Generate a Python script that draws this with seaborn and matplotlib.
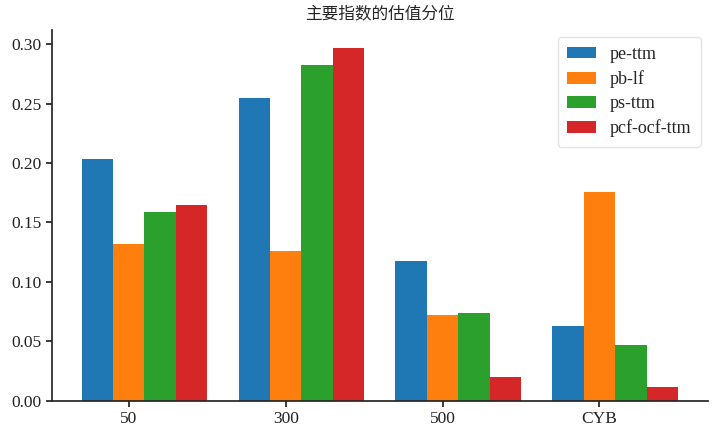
import matplotlib
matplotlib.use("Agg")
import matplotlib.pyplot as plt
import seaborn as sns
import pandas as pd

categories = ["50", "300", "500", "CYB"]
series = ["pe-ttm", "pb-lf", "ps-ttm", "pcf-ocf-ttm"]
pe_ttm = [0.203, 0.255, 0.118, 0.063]
pb_lf = [0.132, 0.126, 0.072, 0.176]
ps_ttm = [0.159, 0.282, 0.074, 0.047]
pcf_ocf_ttm = [0.165, 0.297, 0.020, 0.012]
title = "主要指数的估值分位"

sns.set_theme(style="ticks")
plt.rcParams["font.family"] = ["Liberation Serif", "Noto Sans CJK SC", "DejaVu Sans"]

values = [pe_ttm, pb_lf, ps_ttm, pcf_ocf_ttm]
rows = []
for s, vals in zip(series, values):
    for c, v in zip(categories, vals):
        rows.append({"index": c, "metric": s, "value": v})
df = pd.DataFrame(rows)

fig = plt.figure(figsize=(7.2, 4.32), dpi=100)
ax = fig.add_axes([0.072, 0.072, 0.911, 0.859])
sns.barplot(data=df, x="index", y="value", hue="metric", order=categories,
            hue_order=series, palette="tab10", saturation=1, width=0.8,
            ax=ax, edgecolor="none")
sns.despine(ax=ax)
ax.set_xticks([i - 0.1 for i in range(len(categories))])
ax.set_xticklabels(categories)
ax.set_xlim(-0.59, 3.59)
ax.set_ylim(0, 0.312)
ax.set_yticks([0, 0.05, 0.10, 0.15, 0.20, 0.25, 0.30])
ax.set_yticklabels([f"{v:.2f}" for v in [0, 0.05, 0.10, 0.15, 0.20, 0.25, 0.30]])
ax.tick_params(labelsize=12.5, colors="#222222", length=4)
ax.set_xlabel("")
ax.set_ylabel("")
ax.set_title(title, fontsize=12, family=["Noto Sans CJK SC", "DejaVu Sans"], pad=8)
leg = ax.legend(loc="upper right", fontsize=13, frameon=True, title=None,
                handlelength=1.65, handleheight=0.6, handletextpad=0.75,
                borderpad=0.5, labelspacing=0.4, borderaxespad=0.4)
leg.get_frame().set_edgecolor("#dddddd")
fig.savefig("out.png", dpi=100)
